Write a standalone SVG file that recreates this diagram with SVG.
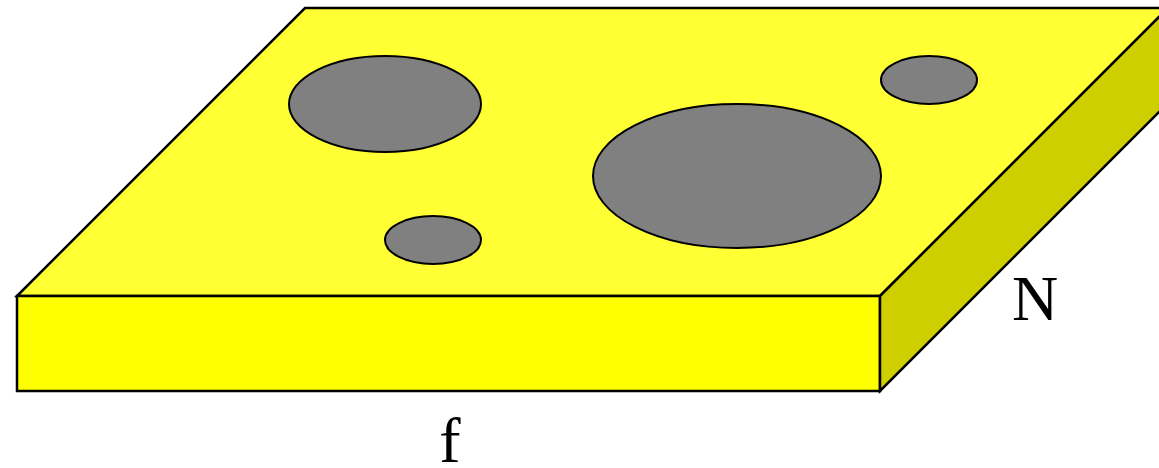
<svg xmlns="http://www.w3.org/2000/svg" width="1159" height="468" viewBox="0 0 1159 468">
<style>
.e{stroke:#000;stroke-width:2.5;stroke-linejoin:miter}
.h{fill:#808080;stroke:#000;stroke-width:2}
.t{font-family:"Liberation Serif",serif;font-size:64px;fill:#000;text-anchor:middle}
</style>
<g id="slab">
<polygon class="e" fill="#FFFF33" points="17,296 305,8 1168,8 880,296"/>
<polygon class="e" fill="#FFFF00" points="17,296 880,296 880,391 17,391"/>
<polygon class="e" fill="#CFCF00" points="880,296 1168,8 1168,103 880,391"/>
</g>
<g id="holes">
<ellipse class="h" cx="385" cy="104" rx="96" ry="48"/>
<ellipse class="h" cx="433" cy="240" rx="48" ry="24"/>
<ellipse class="h" cx="737" cy="176" rx="144" ry="72"/>
<ellipse class="h" cx="929" cy="80" rx="48" ry="24"/>
</g>
<g id="labels">
<text class="t" x="1035" y="320">N</text>
<text class="t" x="450" y="462">f</text>
</g>
</svg>
